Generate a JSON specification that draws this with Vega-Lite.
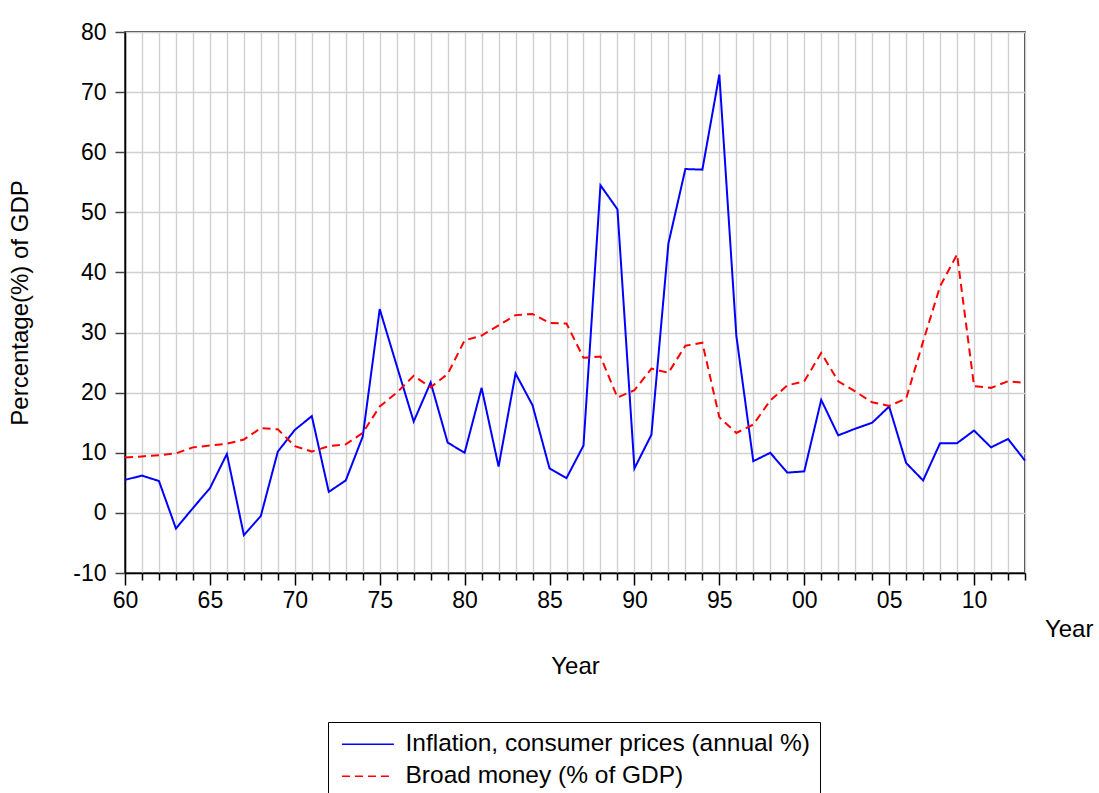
{
  "$schema": "https://vega.github.io/schema/vega-lite/v6.json",
  "autosize": {"type": "none"},
  "padding": {"left": 125, "top": 32, "right": 74, "bottom": 220},
  "width": 900,
  "height": 541,
  "background": "white",
  "config": {
    "font": "Liberation Sans",
    "view": {"stroke": "black", "strokeWidth": 1.5},
    "axis": {"labelFont": "Liberation Sans", "titleFont": "Liberation Sans", "titleFontWeight": "normal", "labelColor": "black", "titleColor": "black"}
  },
  "data": {
    "values": [
      {"year": 1960, "inf": 5.5, "broad": 9.2},
      {"year": 1961, "inf": 6.2, "broad": 9.4},
      {"year": 1962, "inf": 5.3, "broad": 9.6},
      {"year": 1963, "inf": -2.6, "broad": 9.9},
      {"year": 1964, "inf": 0.8, "broad": 10.9},
      {"year": 1965, "inf": 4.1, "broad": 11.2},
      {"year": 1966, "inf": 9.8, "broad": 11.5},
      {"year": 1967, "inf": -3.7, "broad": 12.2},
      {"year": 1968, "inf": -0.5, "broad": 14.1},
      {"year": 1969, "inf": 10.2, "broad": 13.9},
      {"year": 1970, "inf": 13.8, "broad": 11.1},
      {"year": 1971, "inf": 16.1, "broad": 10.2},
      {"year": 1972, "inf": 3.5, "broad": 11.1},
      {"year": 1973, "inf": 5.4, "broad": 11.4},
      {"year": 1974, "inf": 12.7, "broad": 13.3},
      {"year": 1975, "inf": 33.9, "broad": 17.7},
      {"year": 1976, "inf": 24.5, "broad": 20.0},
      {"year": 1977, "inf": 15.2, "broad": 22.8},
      {"year": 1978, "inf": 21.7, "broad": 20.9},
      {"year": 1979, "inf": 11.7, "broad": 23.1},
      {"year": 1980, "inf": 10.0, "broad": 28.7},
      {"year": 1981, "inf": 20.8, "broad": 29.5},
      {"year": 1982, "inf": 7.7, "broad": 31.2},
      {"year": 1983, "inf": 23.2, "broad": 32.9},
      {"year": 1984, "inf": 17.9, "broad": 33.1},
      {"year": 1985, "inf": 7.4, "broad": 31.6},
      {"year": 1986, "inf": 5.8, "broad": 31.5},
      {"year": 1987, "inf": 11.2, "broad": 25.8},
      {"year": 1988, "inf": 54.5, "broad": 26.0},
      {"year": 1989, "inf": 50.5, "broad": 19.2},
      {"year": 1990, "inf": 7.4, "broad": 20.4},
      {"year": 1991, "inf": 13.0, "broad": 24.0},
      {"year": 1992, "inf": 44.8, "broad": 23.3},
      {"year": 1993, "inf": 57.2, "broad": 27.8},
      {"year": 1994, "inf": 57.1, "broad": 28.3},
      {"year": 1995, "inf": 72.9, "broad": 15.9},
      {"year": 1996, "inf": 29.5, "broad": 13.3},
      {"year": 1997, "inf": 8.6, "broad": 14.7},
      {"year": 1998, "inf": 10.0, "broad": 18.7},
      {"year": 1999, "inf": 6.7, "broad": 21.2},
      {"year": 2000, "inf": 6.9, "broad": 21.9},
      {"year": 2001, "inf": 18.8, "broad": 26.6},
      {"year": 2002, "inf": 12.9, "broad": 21.9},
      {"year": 2003, "inf": 14.0, "broad": 20.2},
      {"year": 2004, "inf": 15.0, "broad": 18.4},
      {"year": 2005, "inf": 17.7, "broad": 17.8},
      {"year": 2006, "inf": 8.3, "broad": 19.0},
      {"year": 2007, "inf": 5.4, "broad": 28.5},
      {"year": 2008, "inf": 11.6, "broad": 37.7},
      {"year": 2009, "inf": 11.6, "broad": 43.0},
      {"year": 2010, "inf": 13.7, "broad": 21.1},
      {"year": 2011, "inf": 10.9, "broad": 20.8},
      {"year": 2012, "inf": 12.3, "broad": 21.9},
      {"year": 2013, "inf": 8.7, "broad": 21.6}
    ]
  },
  "layer": [
    {
      "transform": [
        {"fold": ["inf", "broad"], "as": ["key", "value"]},
        {"lookup": "key", "from": {"data": {"values": [
          {"key": "inf", "series": "Inflation, consumer prices (annual %)"},
          {"key": "broad", "series": "Broad money (% of GDP)"}
        ]}, "key": "key", "fields": ["series"]}}
      ],
      "mark": {"type": "line", "strokeWidth": 2, "clip": false},
      "encoding": {
        "x": {
          "field": "year", "type": "quantitative",
          "scale": {"domain": [1960, 2013], "nice": false, "zero": false},
          "axis": {
            "title": "Year", "titleFontSize": 24, "titlePadding": 42,
            "values": [1960,1961,1962,1963,1964,1965,1966,1967,1968,1969,1970,1971,1972,1973,1974,1975,1976,1977,1978,1979,1980,1981,1982,1983,1984,1985,1986,1987,1988,1989,1990,1991,1992,1993,1994,1995,1996,1997,1998,1999,2000,2001,2002,2003,2004,2005,2006,2007,2008,2009,2010,2011,2012,2013],
            "labelExpr": "datum.value % 5 === 0 ? slice(toString(datum.value), 2) : ''",
            "labelOverlap": false, "labelBound": false, "labelFlush": false,
            "labelFontSize": 23, "labelPadding": 4,
            "tickSize": {"condition": {"test": "datum.value % 5 === 0", "value": 12}, "value": 7},
            "tickColor": "black", "tickWidth": 1.5,
            "domainColor": "black", "domainWidth": 1.5,
            "grid": true, "gridColor": "#d0d0d0", "gridWidth": 1.4
          }
        },
        "y": {
          "field": "value", "type": "quantitative",
          "scale": {"domain": [-10, 80], "nice": false, "zero": false},
          "axis": {
            "title": "Percentage(%) of GDP", "titleFontSize": 24, "titlePadding": 40,
            "values": [-10, 0, 10, 20, 30, 40, 50, 60, 70, 80],
            "labelExpr": "toString(datum.value)",
            "labelFontSize": 23, "labelPadding": 9, "labelFlush": false, "labelBound": false,
            "tickSize": 10, "tickColor": "#444", "tickWidth": 1.5,
            "domainColor": "black", "domainWidth": 1.5,
            "grid": true, "gridColor": "#d0d0d0", "gridWidth": 1.4
          }
        },
        "color": {
          "field": "series", "type": "nominal",
          "scale": {"domain": ["Inflation, consumer prices (annual %)", "Broad money (% of GDP)"], "range": ["#0000ff", "#ff0000"]},
          "legend": {
            "title": null, "orient": "none", "legendX": 203, "legendY": 690, "direction": "vertical",
            "strokeColor": "black", "fillColor": "white", "padding": 10,
            "symbolType": "M-1.6,0H8.4", "symbolSize": 108, "symbolStrokeWidth": 1.5,
            "labelFontSize": 24.5, "labelOffset": 43, "labelColor": "black", "labelLimit": 1000,
            "rowPadding": 7
          }
        },
        "strokeDash": {
          "field": "series", "type": "nominal",
          "scale": {"domain": ["Inflation, consumer prices (annual %)", "Broad money (% of GDP)"], "range": [[1, 0], [8, 5]]},
          "legend": {
            "title": null, "orient": "none", "legendX": 203, "legendY": 690, "direction": "vertical",
            "strokeColor": "black", "fillColor": "white", "padding": 10,
            "symbolType": "M-1.6,0H8.4", "symbolSize": 108, "symbolStrokeWidth": 1.5,
            "labelFontSize": 24.5, "labelOffset": 43, "labelColor": "black", "labelLimit": 1000,
            "rowPadding": 7
          }
        }
      }
    },
    {
      "data": {"values": [{"t": "Year"}]},
      "mark": {"type": "text", "fontSize": 24, "align": "center", "baseline": "middle", "color": "black", "font": "Liberation Sans"},
      "encoding": {
        "x": {"datum": 2015.6, "type": "quantitative",
          "scale": {"domain": [1960, 2013], "nice": false, "zero": false},
          "axis": {
            "title": "Year", "titleFontSize": 24, "titlePadding": 42,
            "values": [1960,1961,1962,1963,1964,1965,1966,1967,1968,1969,1970,1971,1972,1973,1974,1975,1976,1977,1978,1979,1980,1981,1982,1983,1984,1985,1986,1987,1988,1989,1990,1991,1992,1993,1994,1995,1996,1997,1998,1999,2000,2001,2002,2003,2004,2005,2006,2007,2008,2009,2010,2011,2012,2013],
            "labelExpr": "datum.value % 5 === 0 ? slice(toString(datum.value), 2) : ''",
            "labelOverlap": false, "labelBound": false, "labelFlush": false,
            "labelFontSize": 23, "labelPadding": 4,
            "tickSize": {"condition": {"test": "datum.value % 5 === 0", "value": 12}, "value": 7},
            "tickColor": "black", "tickWidth": 1.5,
            "domainColor": "black", "domainWidth": 1.5,
            "grid": true, "gridColor": "#d0d0d0", "gridWidth": 1.4
          }
        },
        "y": {"datum": -19.5, "type": "quantitative",
          "scale": {"domain": [-10, 80], "nice": false, "zero": false},
          "axis": {
            "title": "Percentage(%) of GDP", "titleFontSize": 24, "titlePadding": 40,
            "values": [-10, 0, 10, 20, 30, 40, 50, 60, 70, 80],
            "labelExpr": "toString(datum.value)",
            "labelFontSize": 23, "labelPadding": 9, "labelFlush": false, "labelBound": false,
            "tickSize": 10, "tickColor": "#444", "tickWidth": 1.5,
            "domainColor": "black", "domainWidth": 1.5,
            "grid": true, "gridColor": "#d0d0d0", "gridWidth": 1.4
          }
        },
        "text": {"field": "t"}
      }
    }
  ]
}
